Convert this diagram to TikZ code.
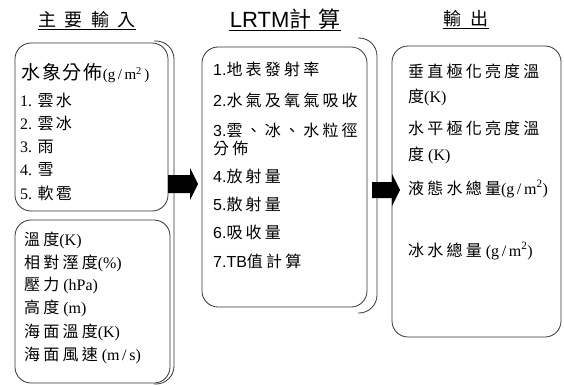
\documentclass[tikz,border=0pt]{standalone}
\usepackage{fontspec}
\setmainfont{Liberation Serif}
\setsansfont{Liberation Sans}
\newfontfamily\cjk[LetterSpace=20]{Noto Sans CJK TC}
\newfontfamily\cjkwide[LetterSpace=45]{Noto Sans CJK TC}
\newcommand{\gm}{(g\,/\,m\textsuperscript{2})}

\tikzset{
  box/.style={draw=black!80, line width=0.8pt, rounded corners=16pt, inner sep=0pt},
  bracket/.style={draw=black!80, line width=0.8pt, rounded corners=18pt},
  head/.style={inner sep=1pt, font=\fontsize{18}{20}\selectfont},
  item/.style={anchor=west, inner sep=0pt, font=\fontsize{16}{18}\selectfont},
  small item/.style={item, font=\fontsize{16}{18}\selectfont},
  calc item/.style={item, font=\sffamily\fontsize{16}{18}\selectfont},
  block/.style={fill=black},
}

\begin{document}
\begin{tikzpicture}[x=1pt, y=-1pt]
  \useasboundingbox (0,0) rectangle (564,385);

  % titles
  \node [head] (title-in) at (87,20) {\cjkwide 主要輸入};
  \node [head, font=\fontsize{22}{24}\selectfont] (title-calc) at (285,19)
    {\sffamily LRTM{\cjk\addfontfeature{LetterSpace=30}計算}};
  \node [head] (title-out) at (466,19) {\cjkwide 輸出};
  \foreach \t in {in,calc,out}
    \draw [line width=0.7pt] (title-\t.south west) -- (title-\t.south east);

  % boxes
  \node [box, minimum width=153, minimum height=168] (hydro) at (91.5,127) {};
  \node [box, minimum width=155, minimum height=163] (atmos) at (92.5,301.5) {};
  \node [box, minimum width=165, minimum height=260] (lrtm) at (284.5,177) {};
  \node [box, minimum width=169, minimum height=291] (output) at (476.5,191.5) {};

  % brackets
  \draw [bracket] (154,41) -- (174,41) -- (174,384) -- (154,384);
  \draw [bracket] (358,38) -- (377,38) -- (377,313) -- (358,313);

  % block arrows
  \fill [block] (168,175) -- (190,175) -- (190,168) -- (198,184)
    -- (190,200) -- (190,193) -- (168,193) -- cycle;
  \fill [block] (372,182) -- (392,182) -- (392,174) -- (400,190)
    -- (392,206) -- (392,198) -- (372,198) -- cycle;

  % hydrometeors
  \node [item, font=\fontsize{19}{21}\selectfont] (hydro-0) at (21,73)
    {{\cjk\addfontfeature{LetterSpace=10}水象分佈}{\fontsize{15}{17}\selectfont(g\,/\,m\textsuperscript{2}\,)}};
  \foreach \l/\y [count=\i] in {雲水/100,雲冰/123,雨/147,雪/169,軟雹/193}
    \node [small item] (hydro-\i) at (20,\y) {\i. {\cjk\addfontfeature{LetterSpace=15}\l}};

  % atmosphere
  \foreach \l/\u/\y [count=\i] in {溫度/{(K)}/240, 相對溼度/{(\%)}/263, 壓力/{\ (hPa)}/285,
      高度/{\ (m)}/308, 海面溫度/{(K)}/332, 海面風速/{\ (m\,{/}\,s)}/355}
    \node [item] (atmos-\i) at (24,\y) {{\cjk\l}\u};

  % LRTM steps
  \foreach \l/\y [count=\i] in {地表發射率/69, 水氣及氧氣吸收/100, 雲、冰、水粒徑/130}
    \node [calc item] (lrtm-\i) at (213,\y) {\i.{\cjk\l}};
  \node [calc item] (lrtm-3b) at (213,148) {\cjk 分佈};
  \foreach \l/\y [count=\i from 4] in {放射量/176, 散射量/204, 吸收量/232}
    \node [calc item] (lrtm-\i) at (213,\y) {\i.{\cjk\l}};
  \node [calc item] (lrtm-7) at (213,261) {7.TB{\cjk 值計算}};

  % outputs
  \node [item] (out-1) at (408,71) {\cjk 垂直極化亮度溫};
  \node [item] (out-1b) at (408,97) {{\cjk 度}(K)};
  \node [item] (out-2) at (408,128) {\cjk 水平極化亮度溫};
  \node [item] (out-2b) at (408,155) {{\cjk 度} (K)};
  \node [item] (out-3) at (408,189) {{\cjk 液態水總量}\gm};
  \node [item] (out-4) at (408,251) {{\cjk 冰水總量} \gm};
\end{tikzpicture}
\end{document}
